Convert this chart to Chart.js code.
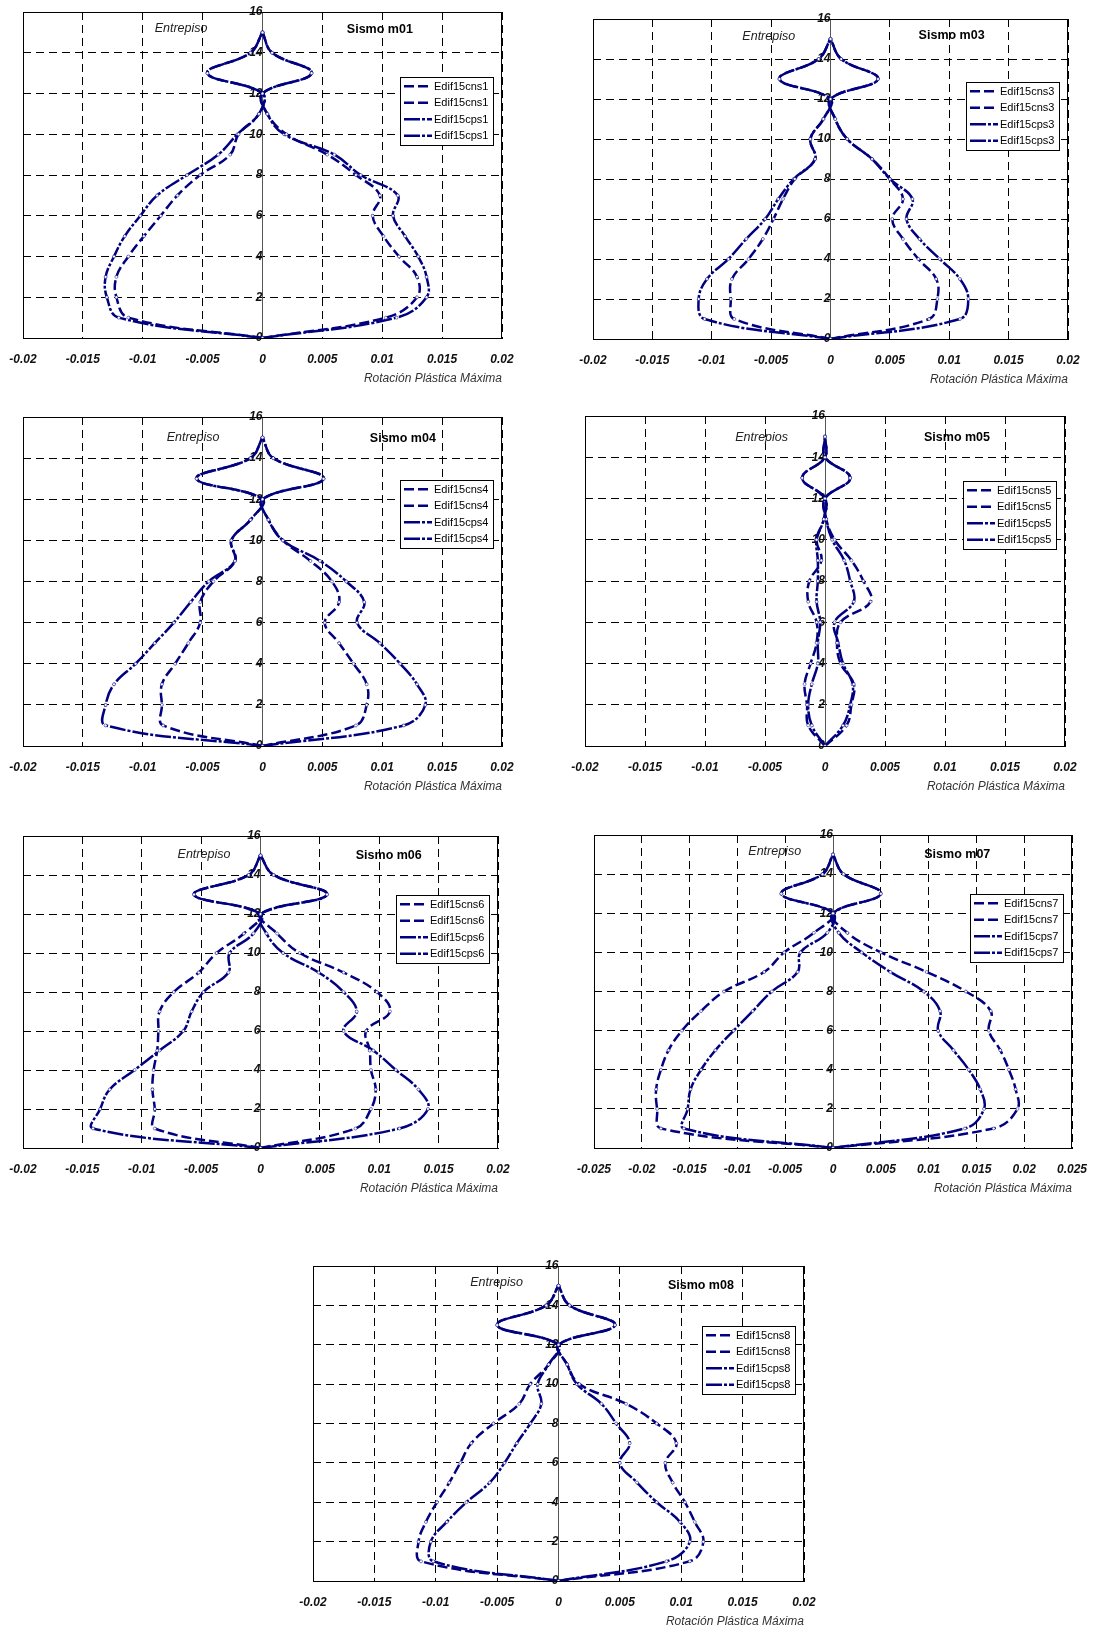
<!DOCTYPE html>
<html>
<head>
<meta charset="utf-8">
<script src="https://cdn.jsdelivr.net/npm/chart.js@4.4.0/dist/chart.umd.min.js"></script>
<style>
  body { margin: 0; background: #fff; width: 1110px; height: 1631px; position: relative; overflow: hidden; }
  canvas { position: absolute; }
</style>
</head>
<body>
<script>
// Entrepiso (story) 0..15
const floors = [0, 1, 2, 3, 4, 5, 6, 7, 8, 9, 10, 11, 12, 13, 14, 15];

// Sismo m01
const cnsNeg01 = [0, -0.0112, -0.0122, -0.0122, -0.0112, -0.0099, -0.0085, -0.0071, -0.0052, -0.0027, -0.002, -0.0003, 0, -0.0046, -0.001, 0];
const cnsPos01 = [0, 0.0103, 0.0129, 0.0129, 0.0114, 0.0101, 0.0092, 0.0098, 0.0078, 0.0054, 0.002, 0.0004, 0, 0.0041, 0.0008, 0];
const cpsNeg01 = [0, -0.012, -0.013, -0.0131, -0.0124, -0.0115, -0.0102, -0.0088, -0.0063, -0.0037, -0.0021, -0.0003, 0, -0.0046, -0.001, 0];
const cpsPos01 = [0, 0.0112, 0.0137, 0.0137, 0.013, 0.0119, 0.0109, 0.0113, 0.0082, 0.006, 0.0018, 0.0004, 0, 0.0041, 0.0008, 0];

// Sismo m03
const cnsNeg03 = [0, -0.0081, -0.0084, -0.0083, -0.0069, -0.0057, -0.0048, -0.004, -0.003, -0.0013, -0.0017, -0.0006, 0, -0.0043, -0.001, 0];
const cnsPos03 = [0, 0.0083, 0.009, 0.0089, 0.0074, 0.0061, 0.0052, 0.0061, 0.005, 0.0035, 0.0014, 0.0004, 0, 0.004, 0.0009, 0];
const cpsNeg03 = [0, -0.0106, -0.0111, -0.0104, -0.0086, -0.0071, -0.0055, -0.0044, -0.0031, -0.0013, -0.0017, -0.0006, 0, -0.0043, -0.001, 0];
const cpsPos03 = [0, 0.0109, 0.0116, 0.0109, 0.0092, 0.0075, 0.0064, 0.0069, 0.005, 0.0035, 0.0014, 0.0004, 0, 0.004, 0.0009, 0];

// Sismo m04
const cnsNeg04 = [0, -0.0083, -0.0084, -0.0084, -0.0073, -0.0062, -0.0052, -0.0052, -0.0041, -0.0023, -0.0026, -0.001, 0, -0.0055, -0.001, 0];
const cnsPos04 = [0, 0.0078, 0.0087, 0.0087, 0.0076, 0.0064, 0.0052, 0.0064, 0.0058, 0.004, 0.0017, 0.0005, 0, 0.0051, 0.0009, 0];
const cpsNeg04 = [0, -0.0131, -0.0131, -0.0124, -0.0106, -0.009, -0.0074, -0.006, -0.0045, -0.0023, -0.0026, -0.001, 0, -0.0055, -0.001, 0];
const cpsPos04 = [0, 0.0118, 0.0136, 0.0129, 0.0115, 0.0098, 0.0079, 0.0085, 0.007, 0.0048, 0.0017, 0.0005, 0, 0.0051, 0.0009, 0];

// Sismo m05
const cnsNeg05 = [0, -0.0014, -0.0015, -0.0017, -0.0012, -0.0007, -0.0007, -0.0014, -0.0013, -0.0003, -0.0007, -0.0001, 0, -0.0019, 0, 0];
const cnsPos05 = [0, 0.0018, 0.0022, 0.0024, 0.0013, 0.001, 0.0013, 0.0038, 0.0032, 0.0022, 0.0008, 0.0001, 0, 0.0021, 0, 0];
const cpsNeg05 = [0, -0.0011, -0.0014, -0.0011, -0.0006, -0.0006, -0.0004, -0.0007, -0.0006, -0.0006, -0.0007, -0.0001, 0, -0.0019, 0, 0];
const cpsPos05 = [0, 0.0015, 0.0021, 0.0023, 0.0015, 0.0011, 0.0008, 0.0024, 0.0021, 0.0016, 0.0006, 0.0001, 0, 0.0021, 0, 0];

// Sismo m06
const cnsNeg06 = [0, -0.0089, -0.0089, -0.0091, -0.009, -0.0087, -0.0086, -0.0085, -0.0073, -0.0052, -0.0037, -0.0014, 0, -0.0056, -0.001, 0];
const cnsPos06 = [0, 0.008, 0.0093, 0.0097, 0.0093, 0.0092, 0.0089, 0.0109, 0.0098, 0.007, 0.0033, 0.0014, 0, 0.0056, 0.0011, 0];
const cpsNeg06 = [0, -0.0141, -0.0135, -0.0127, -0.0106, -0.0085, -0.0065, -0.0058, -0.0048, -0.0027, -0.0026, -0.0006, 0, -0.0056, -0.001, 0];
const cpsPos06 = [0, 0.0117, 0.0141, 0.0133, 0.0114, 0.0095, 0.007, 0.0081, 0.007, 0.0049, 0.0019, 0.0005, 0, 0.0056, 0.0011, 0];

// Sismo m07
const cnsNeg07 = [0, -0.018, -0.0184, -0.0185, -0.018, -0.0172, -0.0158, -0.0138, -0.0114, -0.0072, -0.0051, -0.002, 0, -0.0054, -0.0011, 0];
const cnsPos07 = [0, 0.0168, 0.0193, 0.0191, 0.0184, 0.0175, 0.0163, 0.0165, 0.0139, 0.0098, 0.005, 0.0015, 0, 0.005, 0.0011, 0];
const cpsNeg07 = [0, -0.0156, -0.0152, -0.0149, -0.0138, -0.0123, -0.0104, -0.0084, -0.0064, -0.0037, -0.0034, -0.0006, 0, -0.0054, -0.0011, 0];
const cpsPos07 = [0, 0.0138, 0.0158, 0.0154, 0.0142, 0.0126, 0.011, 0.0112, 0.0095, 0.006, 0.003, 0.0006, 0, 0.005, 0.0011, 0];

// Sismo m08
const cnsNeg08 = [0, -0.0112, -0.0114, -0.0108, -0.0099, -0.0089, -0.008, -0.0071, -0.0053, -0.0032, -0.0023, -0.0008, 0, -0.005, -0.001, 0];
const cnsPos08 = [0, 0.0107, 0.0118, 0.0111, 0.0103, 0.0093, 0.0087, 0.0096, 0.008, 0.0055, 0.0017, 0.0007, 0, 0.0046, 0.0009, 0];
const cpsNeg08 = [0, -0.0102, -0.0104, -0.0091, -0.0075, -0.0056, -0.0044, -0.0034, -0.0023, -0.0014, -0.0017, -0.0008, 0, -0.005, -0.001, 0];
const cpsPos08 = [0, 0.0088, 0.0107, 0.0099, 0.008, 0.0064, 0.005, 0.0058, 0.0047, 0.0035, 0.0015, 0.0007, 0, 0.0046, 0.0009, 0];

const FONT = 'Arial, "Liberation Sans", sans-serif';
const NAVY = '#000080';
const CNS_DASH = [10, 4];
const CPS_DASH = [16, 2, 3, 2];

// plot boxes [left, top, right, bottom] in page pixels
const panels = [
  { sismo: 'Sismo m01', side: 'Entrepiso', n: '1', box: [23, 12, 502, 338], xr: 0.02, ent: [0.33, 0.05], sis: [0.745, 0.055], leg: 0.2,
    series: [cnsNeg01, cnsPos01, cpsNeg01, cpsPos01] },
  { sismo: 'Sismo m03', side: 'Entrepiso', n: '3', box: [593, 19, 1068, 339], xr: 0.02, ent: [0.37, 0.056], sis: [0.755, 0.053], leg: 0.197,
    series: [cnsNeg03, cnsPos03, cpsNeg03, cpsPos03] },
  { sismo: 'Sismo m04', side: 'Entrepiso', n: '4', box: [23, 417, 502, 746], xr: 0.02, ent: [0.355, 0.062], sis: [0.793, 0.064], leg: 0.19,
    series: [cnsNeg04, cnsPos04, cpsNeg04, cpsPos04] },
  { sismo: 'Sismo m05', side: 'Entrepios', n: '5', box: [585, 416, 1065, 746], xr: 0.02, ent: [0.368, 0.065], sis: [0.775, 0.066], leg: 0.197,
    series: [cnsNeg05, cnsPos05, cpsNeg05, cpsPos05] },
  { sismo: 'Sismo m06', side: 'Entrepiso', n: '6', box: [23, 836, 498, 1148], xr: 0.02, ent: [0.381, 0.058], sis: [0.77, 0.064], leg: 0.19,
    series: [cnsNeg06, cnsPos06, cpsNeg06, cpsPos06] },
  { sismo: 'Sismo m07', side: 'Entrepiso', n: '7', box: [593, 835, 1072, 1148], xr: 0.025, ent: [0.378, 0.054], sis: [0.76, 0.062], leg: 0.19,
    series: [cnsNeg07, cnsPos07, cpsNeg07, cpsPos07] },
  { sismo: 'Sismo m08', side: 'Entrepiso', n: '8', box: [313, 1266, 804, 1581], xr: 0.02, ent: [0.374, 0.051], sis: [0.79, 0.062], leg: 0.19,
    series: [cnsNeg08, cnsPos08, cpsNeg08, cpsPos08] }
];

const PAD_L = 30, PAD_R = 30, PAD_T = 12, X_AXIS_H = 50;

// frame, texts and the boxed legend inside the plot
const decor = {
  id: 'decor',
  beforeDatasetsDraw(chart) {
    const { ctx, chartArea: a } = chart;
    ctx.save();
    ctx.strokeStyle = '#000';
    ctx.lineWidth = 1;
    ctx.strokeRect(Math.round(a.left) + 0.5, Math.round(a.top) + 0.5, Math.round(a.width) - 1, Math.round(a.height));
    ctx.restore();
  },
  afterDatasetsDraw(chart, args, o) {
    const { ctx, chartArea: a } = chart;
    ctx.save();
    ctx.textAlign = 'center';
    ctx.textBaseline = 'middle';
    ctx.fillStyle = '#222';
    ctx.font = 'italic 12.5px ' + FONT;
    ctx.fillText(o.side, a.left + o.ent[0] * a.width, a.top + o.ent[1] * a.height);
    ctx.fillStyle = '#000';
    ctx.font = 'bold 12.5px ' + FONT;
    ctx.fillText(o.sismo, a.left + o.sis[0] * a.width, a.top + o.sis[1] * a.height);

    // legend
    const ds = chart.data.datasets;
    const bw = 93, rh = 16.5, bh = Math.round(rh * ds.length + 2);
    const bx = Math.round(a.right - 9 - bw), by = Math.round(a.top + o.leg * a.height);
    ctx.fillStyle = '#fff';
    ctx.fillRect(bx, by, bw, bh);
    ctx.strokeStyle = '#000';
    ctx.lineWidth = 1;
    ctx.strokeRect(bx + 0.5, by + 0.5, bw, bh);
    ctx.textAlign = 'left';
    ds.forEach((d, i) => {
      const y = by + 1 + rh * (i + 0.5);
      ctx.strokeStyle = d.borderColor;
      ctx.lineWidth = 2.5;
      ctx.setLineDash(d.borderDash);
      ctx.beginPath();
      ctx.moveTo(bx + 4, y);
      ctx.lineTo(bx + 32, y);
      ctx.stroke();
      ctx.setLineDash([]);
      ctx.fillStyle = '#000';
      ctx.font = '11px ' + FONT;
      ctx.fillText(d.label, bx + 34, y + 0.5);
    });
    ctx.restore();
  }
};

function makeDataset(values, label, dash) {
  return {
    label: label,
    data: floors.map((f, i) => ({ x: values[i], y: f })),
    showLine: true,
    borderColor: NAVY,
    borderWidth: 2.5,
    borderDash: dash,
    tension: 0.4,
    pointRadius: 1.5,
    pointBackgroundColor: '#fff',
    pointBorderColor: NAVY,
    pointBorderWidth: 0.5
  };
}

panels.forEach(p => {
  const [L, T, R, B] = p.box;
  const canvas = document.createElement('canvas');
  const w = (R - L) + PAD_L + PAD_R;
  const h = (B - T) + PAD_T + X_AXIS_H;
  canvas.width = w;
  canvas.height = h;
  canvas.style.left = (L - PAD_L) + 'px';
  canvas.style.top = (T - PAD_T) + 'px';
  canvas.style.width = w + 'px';
  canvas.style.height = h + 'px';
  document.body.appendChild(canvas);

  const names = ['Edif15cns', 'Edif15cns', 'Edif15cps', 'Edif15cps'];
  const dashes = [CNS_DASH, CNS_DASH, CPS_DASH, CPS_DASH];

  new Chart(canvas.getContext('2d'), {
    type: 'scatter',
    data: {
      datasets: p.series.map((s, i) => makeDataset(s, names[i] + p.n, dashes[i]))
    },
    options: {
      responsive: false,
      animation: false,
      devicePixelRatio: 1,
      layout: { padding: { left: PAD_L, right: PAD_R, top: PAD_T, bottom: 0 } },
      plugins: {
        legend: { display: false },
        tooltip: { enabled: false },
        decor: { side: p.side, sismo: p.sismo, ent: p.ent, sis: p.sis, leg: p.leg }
      },
      scales: {
        x: {
          type: 'linear',
          position: 'bottom',
          min: -p.xr,
          max: p.xr,
          afterFit: s => { s.height = X_AXIS_H; },
          ticks: {
            stepSize: 0.005,
            padding: 14,
            color: '#111',
            font: { family: FONT, size: 12, style: 'italic', weight: 'bold' },
            callback: v => String(Number(v.toFixed(3)))
          },
          grid: { color: '#000', lineWidth: 1, drawTicks: false },
          border: { display: true, color: '#000', width: 1, dash: [8, 5] },
          title: {
            display: true,
            text: 'Rotación Plástica Máxima',
            align: 'end',
            color: '#333',
            padding: { top: 0, bottom: 2 },
            font: { family: FONT, size: 12, style: 'italic' }
          }
        },
        y: {
          type: 'linear',
          position: { x: 0 },
          min: 0,
          max: 16,
          ticks: {
            stepSize: 2,
            padding: 0,
            color: '#111',
            font: { family: FONT, size: 12, style: 'italic', weight: 'bold' }
          },
          grid: { color: '#000', lineWidth: 1, drawTicks: true, tickLength: 8, tickColor: 'rgba(0,0,0,0)' },
          border: { display: true, color: '#555', width: 1, dash: [8, 5] }
        }
      }
    },
    plugins: [decor]
  });
});
</script>
</body>
</html>
